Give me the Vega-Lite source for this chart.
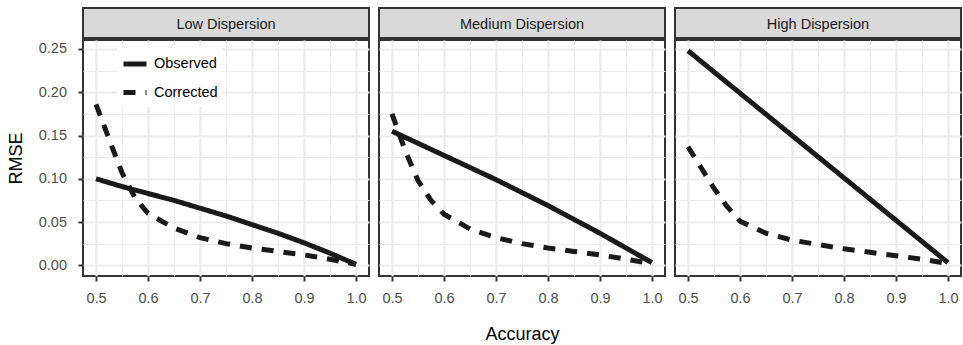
{
  "$schema": "https://vega.github.io/schema/vega-lite/v6.json",
  "padding": {"left": 6, "top": 7, "right": 0, "bottom": 0},
  "background": "white",
  "datasets": {
    "strips": [
      {"panel": "Low Dispersion"},
      {"panel": "Medium Dispersion"},
      {"panel": "High Dispersion"}
    ],
    "lines": [
      {"panel": "Low Dispersion", "series": "Observed", "accuracy": 0.5, "rmse": 0.100},
      {"panel": "Low Dispersion", "series": "Observed", "accuracy": 0.55, "rmse": 0.091},
      {"panel": "Low Dispersion", "series": "Observed", "accuracy": 0.6, "rmse": 0.083},
      {"panel": "Low Dispersion", "series": "Observed", "accuracy": 0.65, "rmse": 0.075},
      {"panel": "Low Dispersion", "series": "Observed", "accuracy": 0.7, "rmse": 0.066},
      {"panel": "Low Dispersion", "series": "Observed", "accuracy": 0.75, "rmse": 0.057},
      {"panel": "Low Dispersion", "series": "Observed", "accuracy": 0.8, "rmse": 0.047},
      {"panel": "Low Dispersion", "series": "Observed", "accuracy": 0.85, "rmse": 0.037},
      {"panel": "Low Dispersion", "series": "Observed", "accuracy": 0.9, "rmse": 0.026},
      {"panel": "Low Dispersion", "series": "Observed", "accuracy": 0.95, "rmse": 0.014},
      {"panel": "Low Dispersion", "series": "Observed", "accuracy": 1.0, "rmse": 0.001},
      {"panel": "Low Dispersion", "series": "Corrected", "accuracy": 0.5, "rmse": 0.186},
      {"panel": "Low Dispersion", "series": "Corrected", "accuracy": 0.525, "rmse": 0.146},
      {"panel": "Low Dispersion", "series": "Corrected", "accuracy": 0.55, "rmse": 0.107},
      {"panel": "Low Dispersion", "series": "Corrected", "accuracy": 0.575, "rmse": 0.078},
      {"panel": "Low Dispersion", "series": "Corrected", "accuracy": 0.6, "rmse": 0.060},
      {"panel": "Low Dispersion", "series": "Corrected", "accuracy": 0.65, "rmse": 0.043},
      {"panel": "Low Dispersion", "series": "Corrected", "accuracy": 0.7, "rmse": 0.032},
      {"panel": "Low Dispersion", "series": "Corrected", "accuracy": 0.75, "rmse": 0.025},
      {"panel": "Low Dispersion", "series": "Corrected", "accuracy": 0.8, "rmse": 0.020},
      {"panel": "Low Dispersion", "series": "Corrected", "accuracy": 0.85, "rmse": 0.016},
      {"panel": "Low Dispersion", "series": "Corrected", "accuracy": 0.9, "rmse": 0.012},
      {"panel": "Low Dispersion", "series": "Corrected", "accuracy": 0.95, "rmse": 0.007},
      {"panel": "Low Dispersion", "series": "Corrected", "accuracy": 1.0, "rmse": 0.001},
      {"panel": "Medium Dispersion", "series": "Observed", "accuracy": 0.5, "rmse": 0.155},
      {"panel": "Medium Dispersion", "series": "Observed", "accuracy": 0.6, "rmse": 0.127},
      {"panel": "Medium Dispersion", "series": "Observed", "accuracy": 0.7, "rmse": 0.099},
      {"panel": "Medium Dispersion", "series": "Observed", "accuracy": 0.8, "rmse": 0.069},
      {"panel": "Medium Dispersion", "series": "Observed", "accuracy": 0.9, "rmse": 0.037},
      {"panel": "Medium Dispersion", "series": "Observed", "accuracy": 1.0, "rmse": 0.003},
      {"panel": "Medium Dispersion", "series": "Corrected", "accuracy": 0.5, "rmse": 0.175},
      {"panel": "Medium Dispersion", "series": "Corrected", "accuracy": 0.525, "rmse": 0.133},
      {"panel": "Medium Dispersion", "series": "Corrected", "accuracy": 0.55, "rmse": 0.098},
      {"panel": "Medium Dispersion", "series": "Corrected", "accuracy": 0.575, "rmse": 0.075},
      {"panel": "Medium Dispersion", "series": "Corrected", "accuracy": 0.6, "rmse": 0.059},
      {"panel": "Medium Dispersion", "series": "Corrected", "accuracy": 0.65, "rmse": 0.042},
      {"panel": "Medium Dispersion", "series": "Corrected", "accuracy": 0.7, "rmse": 0.032},
      {"panel": "Medium Dispersion", "series": "Corrected", "accuracy": 0.75, "rmse": 0.025},
      {"panel": "Medium Dispersion", "series": "Corrected", "accuracy": 0.8, "rmse": 0.020},
      {"panel": "Medium Dispersion", "series": "Corrected", "accuracy": 0.85, "rmse": 0.016},
      {"panel": "Medium Dispersion", "series": "Corrected", "accuracy": 0.9, "rmse": 0.012},
      {"panel": "Medium Dispersion", "series": "Corrected", "accuracy": 0.95, "rmse": 0.007},
      {"panel": "Medium Dispersion", "series": "Corrected", "accuracy": 1.0, "rmse": 0.002},
      {"panel": "High Dispersion", "series": "Observed", "accuracy": 0.5, "rmse": 0.248},
      {"panel": "High Dispersion", "series": "Observed", "accuracy": 0.6, "rmse": 0.199},
      {"panel": "High Dispersion", "series": "Observed", "accuracy": 0.7, "rmse": 0.150},
      {"panel": "High Dispersion", "series": "Observed", "accuracy": 0.8, "rmse": 0.101},
      {"panel": "High Dispersion", "series": "Observed", "accuracy": 0.9, "rmse": 0.052},
      {"panel": "High Dispersion", "series": "Observed", "accuracy": 1.0, "rmse": 0.003},
      {"panel": "High Dispersion", "series": "Corrected", "accuracy": 0.5, "rmse": 0.137},
      {"panel": "High Dispersion", "series": "Corrected", "accuracy": 0.525, "rmse": 0.113},
      {"panel": "High Dispersion", "series": "Corrected", "accuracy": 0.55, "rmse": 0.089},
      {"panel": "High Dispersion", "series": "Corrected", "accuracy": 0.575, "rmse": 0.068},
      {"panel": "High Dispersion", "series": "Corrected", "accuracy": 0.6, "rmse": 0.051},
      {"panel": "High Dispersion", "series": "Corrected", "accuracy": 0.65, "rmse": 0.037},
      {"panel": "High Dispersion", "series": "Corrected", "accuracy": 0.7, "rmse": 0.029},
      {"panel": "High Dispersion", "series": "Corrected", "accuracy": 0.75, "rmse": 0.024},
      {"panel": "High Dispersion", "series": "Corrected", "accuracy": 0.8, "rmse": 0.019},
      {"panel": "High Dispersion", "series": "Corrected", "accuracy": 0.85, "rmse": 0.015},
      {"panel": "High Dispersion", "series": "Corrected", "accuracy": 0.9, "rmse": 0.011},
      {"panel": "High Dispersion", "series": "Corrected", "accuracy": 0.95, "rmse": 0.007},
      {"panel": "High Dispersion", "series": "Corrected", "accuracy": 1.0, "rmse": 0.002}
    ]
  },
  "hconcat": [
    {
      "spacing": 0,
      "resolve": {"legend": {"strokeDash": "independent"}},
      "vconcat": [
        {
          "width": 286, "height": 30,
          "data": {"name": "strips"},
          "transform": [{"filter": "datum.panel === 'Low Dispersion'"}],
          "view": {"fill": "#D9D9D9", "stroke": "#333333", "strokeWidth": 2},
          "mark": {"type": "text", "font": "Liberation Sans", "fontSize": 14.5, "color": "#1a1a1a", "baseline": "middle", "dy": 2},
          "encoding": {"text": {"field": "panel", "type": "nominal"}}
        },
        {
          "width": 286, "height": 236,
          "data": {"name": "lines"},
          "transform": [{"filter": "datum.panel === 'Low Dispersion'"}],
          "view": {"fill": "white", "stroke": "#333333", "strokeWidth": 2},
          "mark": {"type": "line", "strokeWidth": 5, "color": "#1a1a1a", "strokeCap": "butt", "strokeJoin": "round"},
          "encoding": {
            "x": {"field": "accuracy", "type": "quantitative",
              "scale": {"domain": [0.475, 1.025], "nice": false, "zero": false},
              "axis": {"title": null,
                "values": [0.5, 0.55, 0.6, 0.65, 0.7, 0.75, 0.8, 0.85, 0.9, 0.95, 1.0],
                "labelExpr": "abs(datum.value*10 - round(datum.value*10)) < 0.001 ? format(datum.value, '.1f') : ''",
                "gridWidth": {"condition": {"test": "abs(datum.value*10 - round(datum.value*10)) < 0.001", "value": 2.2}, "value": 1.1},
                "tickOpacity": {"condition": {"test": "abs(datum.value*10 - round(datum.value*10)) < 0.001", "value": 1}, "value": 0}}},
            "y": {"field": "rmse", "type": "quantitative",
              "scale": {"domain": [-0.0124, 0.2604], "nice": false, "zero": false},
              "axis": {"title": "RMSE", "titlePadding": 12.5,
                "values": [0, 0.025, 0.05, 0.075, 0.1, 0.125, 0.15, 0.175, 0.2, 0.225, 0.25],
                "labelExpr": "abs(datum.value*20 - round(datum.value*20)) < 0.001 ? format(datum.value, '.2f') : ''",
                "gridWidth": {"condition": {"test": "abs(datum.value*20 - round(datum.value*20)) < 0.001", "value": 2.2}, "value": 1.1},
                "tickOpacity": {"condition": {"test": "abs(datum.value*20 - round(datum.value*20)) < 0.001", "value": 1}, "value": 0}}},
            "strokeDash": {"field": "series", "type": "nominal",
              "scale": {"domain": ["Observed", "Corrected"], "range": [[1, 0], [12, 10]]},
              "legend": {"title": null, "orient": "none", "legendX": 34, "legendY": 6,
                "fillColor": "white", "padding": 4, "symbolType": "stroke", "symbolSize": 529,
                "symbolStrokeWidth": 5, "symbolStrokeColor": "#1a1a1a",
                "labelFont": "Liberation Sans", "labelFontSize": 14.5, "labelColor": "#000000",
                "labelOffset": 5, "rowPadding": 4.5}}
          }
        }
      ]
    },
    {
      "spacing": 0,
      "vconcat": [
        {
          "width": 286, "height": 30,
          "data": {"name": "strips"},
          "transform": [{"filter": "datum.panel === 'Medium Dispersion'"}],
          "view": {"fill": "#D9D9D9", "stroke": "#333333", "strokeWidth": 2},
          "mark": {"type": "text", "font": "Liberation Sans", "fontSize": 14.5, "color": "#1a1a1a", "baseline": "middle", "dy": 2},
          "encoding": {"text": {"field": "panel", "type": "nominal"}}
        },
        {
          "width": 286, "height": 236,
          "data": {"name": "lines"},
          "transform": [{"filter": "datum.panel === 'Medium Dispersion'"}],
          "view": {"fill": "white", "stroke": "#333333", "strokeWidth": 2},
          "mark": {"type": "line", "strokeWidth": 5, "color": "#1a1a1a", "strokeCap": "butt", "strokeJoin": "round"},
          "encoding": {
            "x": {"field": "accuracy", "type": "quantitative",
              "scale": {"domain": [0.475, 1.025], "nice": false, "zero": false},
              "axis": {"title": "Accuracy", "titlePadding": 21,
                "values": [0.5, 0.55, 0.6, 0.65, 0.7, 0.75, 0.8, 0.85, 0.9, 0.95, 1.0],
                "labelExpr": "abs(datum.value*10 - round(datum.value*10)) < 0.001 ? format(datum.value, '.1f') : ''",
                "gridWidth": {"condition": {"test": "abs(datum.value*10 - round(datum.value*10)) < 0.001", "value": 2.2}, "value": 1.1},
                "tickOpacity": {"condition": {"test": "abs(datum.value*10 - round(datum.value*10)) < 0.001", "value": 1}, "value": 0}}},
            "y": {"field": "rmse", "type": "quantitative",
              "scale": {"domain": [-0.0124, 0.2604], "nice": false, "zero": false},
              "axis": {"title": null, "labels": false, "ticks": false,
                "values": [0, 0.025, 0.05, 0.075, 0.1, 0.125, 0.15, 0.175, 0.2, 0.225, 0.25],
                "gridWidth": {"condition": {"test": "abs(datum.value*20 - round(datum.value*20)) < 0.001", "value": 2.2}, "value": 1.1}}},
            "strokeDash": {"field": "series", "type": "nominal",
              "scale": {"domain": ["Observed", "Corrected"], "range": [[1, 0], [12, 10]]},
              "legend": null}
          }
        }
      ]
    },
    {
      "spacing": 0,
      "vconcat": [
        {
          "width": 286, "height": 30,
          "data": {"name": "strips"},
          "transform": [{"filter": "datum.panel === 'High Dispersion'"}],
          "view": {"fill": "#D9D9D9", "stroke": "#333333", "strokeWidth": 2},
          "mark": {"type": "text", "font": "Liberation Sans", "fontSize": 14.5, "color": "#1a1a1a", "baseline": "middle", "dy": 2},
          "encoding": {"text": {"field": "panel", "type": "nominal"}}
        },
        {
          "width": 286, "height": 236,
          "data": {"name": "lines"},
          "transform": [{"filter": "datum.panel === 'High Dispersion'"}],
          "view": {"fill": "white", "stroke": "#333333", "strokeWidth": 2},
          "mark": {"type": "line", "strokeWidth": 5, "color": "#1a1a1a", "strokeCap": "butt", "strokeJoin": "round"},
          "encoding": {
            "x": {"field": "accuracy", "type": "quantitative",
              "scale": {"domain": [0.475, 1.025], "nice": false, "zero": false},
              "axis": {"title": null,
                "values": [0.5, 0.55, 0.6, 0.65, 0.7, 0.75, 0.8, 0.85, 0.9, 0.95, 1.0],
                "labelExpr": "abs(datum.value*10 - round(datum.value*10)) < 0.001 ? format(datum.value, '.1f') : ''",
                "gridWidth": {"condition": {"test": "abs(datum.value*10 - round(datum.value*10)) < 0.001", "value": 2.2}, "value": 1.1},
                "tickOpacity": {"condition": {"test": "abs(datum.value*10 - round(datum.value*10)) < 0.001", "value": 1}, "value": 0}}},
            "y": {"field": "rmse", "type": "quantitative",
              "scale": {"domain": [-0.0124, 0.2604], "nice": false, "zero": false},
              "axis": {"title": null, "labels": false, "ticks": false,
                "values": [0, 0.025, 0.05, 0.075, 0.1, 0.125, 0.15, 0.175, 0.2, 0.225, 0.25],
                "gridWidth": {"condition": {"test": "abs(datum.value*20 - round(datum.value*20)) < 0.001", "value": 2.2}, "value": 1.1}}},
            "strokeDash": {"field": "series", "type": "nominal",
              "scale": {"domain": ["Observed", "Corrected"], "range": [[1, 0], [12, 10]]},
              "legend": null}
          }
        }
      ]
    }
  ],
  "spacing": 8,
  "resolve": {"legend": {"strokeDash": "independent"}, "scale": {"x": "independent", "y": "independent", "strokeDash": "independent"}},
  "config": {
    "font": "Liberation Sans",
    "axis": {
      "domain": false,
      "tickColor": "#333333", "tickWidth": 2, "tickSize": 5,
      "labelFont": "Liberation Sans", "labelFontSize": 14.5, "labelColor": "#4D4D4D",
      "labelOverlap": false, "labelFlush": false,
      "titleFont": "Liberation Sans", "titleFontSize": 18, "titleColor": "#000000", "titleFontWeight": "normal",
      "gridColor": "#EBEBEB", "grid": true
    },
    "axisX": {"labelPadding": 10},
    "axisY": {"labelPadding": 11.5}
  }
}
